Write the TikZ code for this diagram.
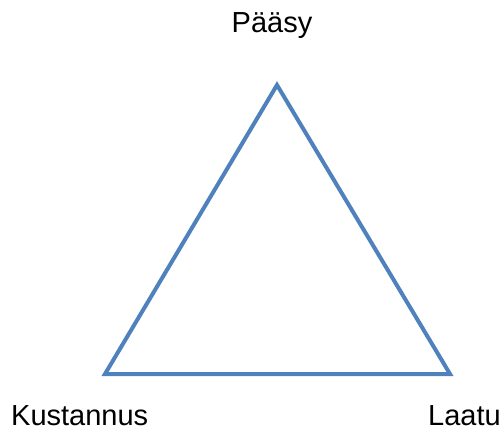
\documentclass[tikz,border=0pt]{standalone}
\usepackage{fontspec}
\setmainfont{Liberation Sans}
\definecolor{triblue}{HTML}{4F81BD}
\begin{document}
\begin{tikzpicture}[x=1pt,y=-1pt,
  lbl/.style={inner sep=0pt,font=\fontsize{29}{34}\selectfont},
  edge/.style={draw=triblue,line width=4pt,line join=miter}]
\useasboundingbox (0,0) rectangle (502,428);
\coordinate (A) at (277,85);
\coordinate (B) at (105,374);
\coordinate (C) at (450,374);
\draw[edge] (A) -- (B) -- (C) -- cycle;
\node[lbl,anchor=base] (pa) at (272,33) {Pääsy};
\node[lbl,anchor=base west] (ku) at (11,425) {Kustannus};
\node[lbl,anchor=base west] (la) at (428,425) {Laatu};
\end{tikzpicture}
\end{document}
